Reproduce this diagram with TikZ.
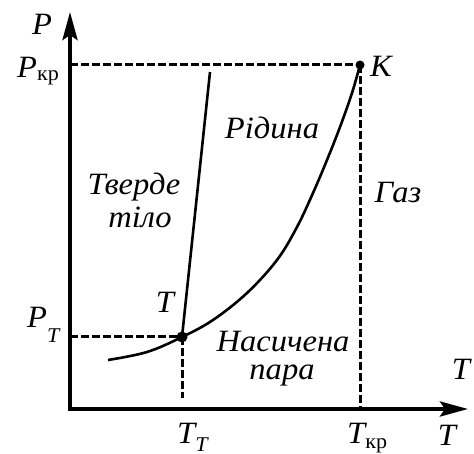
\documentclass[tikz,border=0pt]{standalone}
\usepackage{fontspec}
\setmainfont{Liberation Serif}
\usetikzlibrary{arrows.meta}
\newcommand{\bigf}{\fontsize{31}{31}\selectfont\addfontfeature{FakeStretch=1.05}\itshape}
\newcommand{\subf}{\fontsize{21}{21}\selectfont}
\tikzset{
  axis/.style={line width=4pt, line join=miter},
  curveline/.style={line width=2.6pt},
  dashline/.style={line width=3pt, dash pattern=on 8pt off 3pt},
  lbl/.style={font=\bigf, inner sep=0pt, anchor=base},
  dot/.style={circle, fill=black, inner sep=0pt, minimum size=#1},
}
\begin{document}
\begin{tikzpicture}[x=1pt,y=-1pt]
\useasboundingbox (0,0) rectangle (474,454);
% axes
\coordinate (O) at (70,409);
\coordinate (Ytip) at (70,12);
\coordinate (Xtip) at (468,409);
\draw[axis, {Stealth[length=28pt,width=15pt,inset=5pt]}-{Stealth[length=28pt,width=15pt,inset=5pt]}] (Ytip) -- (O) -- (Xtip);
% key points
\node[dot=9pt] (K) at (360,65) {};
\node[dot=11pt] (Tp) at (182,337) {};
\coordinate (Pk) at (70,65);
\coordinate (Tk) at (360,409);
\coordinate (Pt) at (70,337);
\coordinate (Tt) at (182,398);
\coordinate (S) at (108,360);
\coordinate (M) at (210,72);
% dashed lines
\draw[dashline] (Pk) -- (K.center);
\draw[dashline] (K.center) -- (Tk);
\draw[dashline] (Pt) -- (Tp.center);
\draw[dashline] (Tp.center) -- (Tt);
% curves
\draw[curveline] plot[smooth, tension=0.6] coordinates {(108,360) (147,352) (182,337) (213,320) (247,293) (277,260) (297,227) (313,193) (327,160) (340,127) (352,93) (360,65)};
\draw[curveline] (Tp.center) -- (M);
% labels
\node[lbl] (lP) at (42,35) {P};
\node[lbl, anchor=base west] (lPk) at (17,78) {P\raisebox{-3pt}{\subf\upshape кр}};
\node[lbl, anchor=base west] (lPt) at (27,328) {P\raisebox{-14pt}{\subf T}};
\node[lbl] (lK) at (381,77) {K};
\node[lbl] (lR) at (272,139) {Рідина};
\node[lbl] (lTv) at (134,195) {Тверде};
\node[lbl] (lTi) at (140,228) {тіло};
\node[lbl] (lG) at (398,203) {Газ};
\node[lbl] (lN) at (283,352) {Насичена};
\node[lbl] (lPa) at (282,380) {пара};
\node[lbl] (lT3) at (165,313) {T};
\node[lbl] (lTr) at (461,380) {T};
\node[lbl] (lTx) at (447,445) {T};
\node[lbl, anchor=base west] (lTt) at (177,443) {T\raisebox{-8pt}{\subf T}};
\node[lbl, anchor=base west] (lTkr) at (347,443) {T\raisebox{-5pt}{\subf\upshape кр}};
\end{tikzpicture}
\end{document}
